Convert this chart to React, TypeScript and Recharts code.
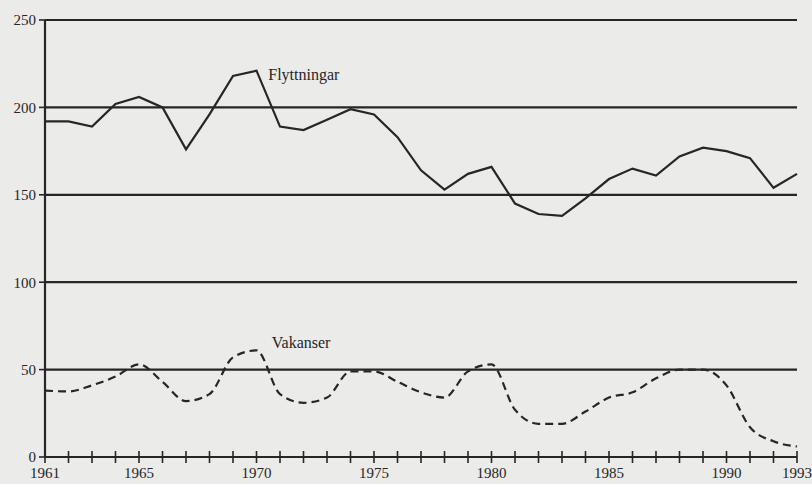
import { LineChart, Line, XAxis, YAxis, CartesianGrid, ReferenceDot } from 'recharts'

const YEARS = Array.from({ length: 33 }, (_, i) => 1961 + i) // 1961 → 1993

const FLYTTNINGAR = [
  192, 192, 189, 202, 206, 200, 176, 196, 218, 221,
  189, 187, 193, 199, 196, 183, 164, 153, 162, 166,
  145, 139, 138, 148, 159, 165, 161, 172, 177, 175,
  171, 154, 162,
]

const VAKANSER = [
  38, 37.5, 41, 46, 53, 43, 32, 36, 57, 61,
  36, 31, 34, 49, 49, 43, 37, 34, 49, 53,
  27, 19, 19, 26, 34, 37, 45, 50, 50, 41,
  17, 9, 6,
]

const Y_TICKS = [0, 50, 100, 150, 200, 250]
const X_LABELED = [1961, 1965, 1970, 1975, 1980, 1985, 1990, 1993]

const INK = '#262626'
const FONT = '"Liberation Serif", "DejaVu Serif", serif'

const data = YEARS.map((year, i) => ({
  year,
  flytt: FLYTTNINGAR[i],
  vak: VAKANSER[i],
}))

function YearTick(props: any) {
  const { x, y, payload } = props
  const show = X_LABELED.includes(payload.value)
  return (
    <g>
      <line x1={x} x2={x} y1={y - 6} y2={y + 6} stroke={INK} strokeWidth={1.6} />
      {show && (
        <text x={x} y={y + 21} textAnchor="middle" fill={INK} fontSize={15} fontFamily={FONT}>
          {payload.value}
        </text>
      )}
    </g>
  )
}

function seriesLabel(text: string) {
  return (p: any) => (
    <text x={p.viewBox.x} y={p.viewBox.y + 5} fill={INK} fontSize={16} fontFamily={FONT}>
      {text}
    </text>
  )
}

export default function App() {
  return (
    <div style={{ width: 812, height: 484, background: '#ebebea' }}>
      <style>{`body{margin:0}`}</style>
      <LineChart
        width={812}
        height={484}
        data={data}
        margin={{ top: 20, right: 15, left: 0, bottom: 0 }}
      >
        <CartesianGrid vertical={false} stroke={INK} strokeWidth={2.2} />
        <XAxis
          dataKey="year"
          type="number"
          domain={[1961, 1993]}
          ticks={YEARS}
          interval={0}
          height={27}
          tickSize={0}
          tickMargin={0}
          tickLine={false}
          axisLine={{ stroke: INK, strokeWidth: 2.2 }}
          tick={<YearTick />}
        />
        <YAxis
          domain={[0, 250]}
          ticks={Y_TICKS}
          width={45}
          tickSize={6}
          tickMargin={3}
          axisLine={{ stroke: INK, strokeWidth: 2.2 }}
          tickLine={{ stroke: INK, strokeWidth: 1.6 }}
          tick={{ fill: INK, fontSize: 15, fontFamily: FONT }}
        />
        <Line
          type="linear"
          dataKey="flytt"
          stroke={INK}
          strokeWidth={2.2}
          dot={false}
          isAnimationActive={false}
        />
        <Line
          type="monotone"
          dataKey="vak"
          stroke={INK}
          strokeWidth={2.2}
          strokeDasharray="8 5"
          dot={false}
          isAnimationActive={false}
        />
        <ReferenceDot x={1970.5} y={218.5} r={0} label={seriesLabel('Flyttningar')} />
        <ReferenceDot x={1970.65} y={65} r={0} label={seriesLabel('Vakanser')} />
      </LineChart>
    </div>
  )
}
